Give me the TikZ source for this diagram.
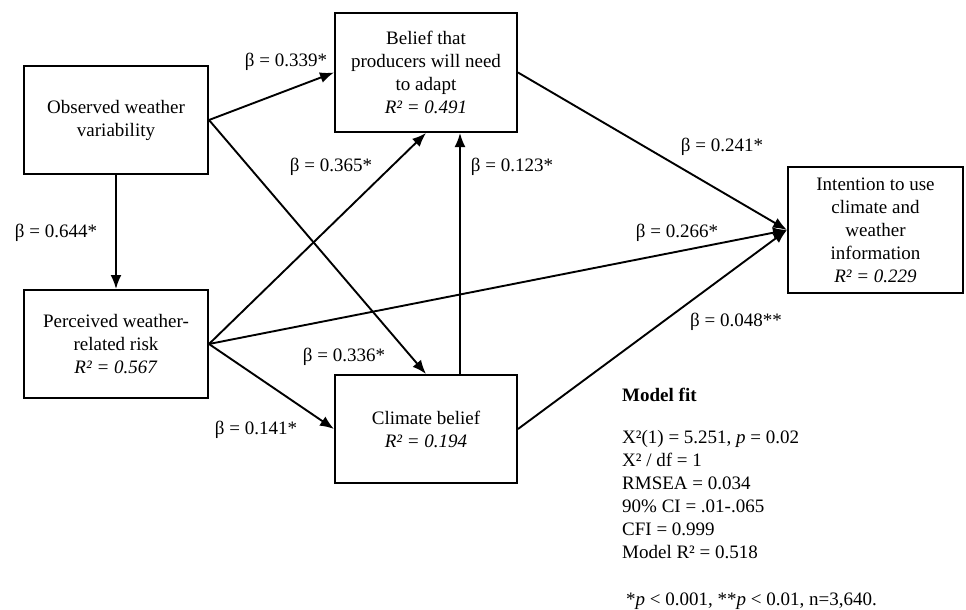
\documentclass[tikz,border=0pt]{standalone}
\usepackage{fontspec}
\setmainfont{Liberation Serif}
\usetikzlibrary{arrows.meta,calc}
\begin{document}
\begin{tikzpicture}[x=1pt,y=-1pt,
  font=\rmfamily\fontsize{19}{23}\selectfont,
  box/.style={draw,line width=2pt,rectangle,inner sep=0pt,align=center},
  arr/.style={line width=1.9pt,-{Latex[length=14pt,width=11pt]}},
  lbl/.style={inner sep=0pt}]
\useasboundingbox (0,0) rectangle (966,610);
% boxes
\node[box,minimum width=184pt,minimum height=108pt] (owv) at (116,120) {Observed weather\\variability};
\node[box,minimum width=184pt,minimum height=108pt] (pwr) at (116,344) {Perceived weather-\\related risk\\\textit{R² = 0.567}};
\node[box,minimum width=182pt,minimum height=119pt] (bel) at (426,72.5) {Belief that\\producers will need\\to adapt\\\textit{R² = 0.491}};
\node[box,minimum width=182pt,minimum height=108pt] (cb) at (426,429) {Climate belief\\\textit{R² = 0.194}};
\node[box,minimum width=175pt,minimum height=126pt] (int) at (875.5,230) {Intention to use\\climate and\\weather\\information\\\textit{R² = 0.229}};
% connectors
\draw[arr] (owv.east) -- (bel.west);
\draw[arr] (owv.east) -- (cb.north);
\draw[arr] (owv.south) -- (pwr.north);
\draw[arr] (pwr.east) -- (bel.south);
\draw[arr] (pwr.east) -- (int.west);
\draw[arr] (pwr.east) -- (cb.west);
\draw[arr] ([xshift=34pt]cb.north) -- ([xshift=34pt]bel.south);
\draw[arr] (bel.east) -- (int.west);
\draw[arr] (cb.east) -- (int.west);
% labels
\node[lbl] (l1) at (286,62) {β = 0.339*};
\node[lbl] (l2) at (56,233) {β = 0.644*};
\node[lbl] (l3) at (331,167) {β = 0.365*};
\node[lbl] (l4) at (512,167) {β = 0.123*};
\node[lbl] (l5) at (722,147) {β = 0.241*};
\node[lbl] (l6) at (677,233) {β = 0.266*};
\node[lbl] (l7) at (344,357) {β = 0.336*};
\node[lbl] (l8) at (256,430) {β = 0.141*};
\node[lbl] (l9) at (736,322) {β = 0.048**};
% model fit
\node[lbl,anchor=west] (mf) at (622,395) {\textbf{Model fit}};
\node[lbl,anchor=north west,align=left] (stats) at (622,430) {X²(1) = 5.251, \textit{p} = 0.02\\X² / df = 1\\RMSEA = 0.034\\90\% CI = .01-.065\\CFI = 0.999\\Model R² = 0.518};
\node[lbl,anchor=west] (fn) at (626,601) {*\textit{p} < 0.001, **\textit{p} < 0.01, n=3,640.};
\end{tikzpicture}
\end{document}
